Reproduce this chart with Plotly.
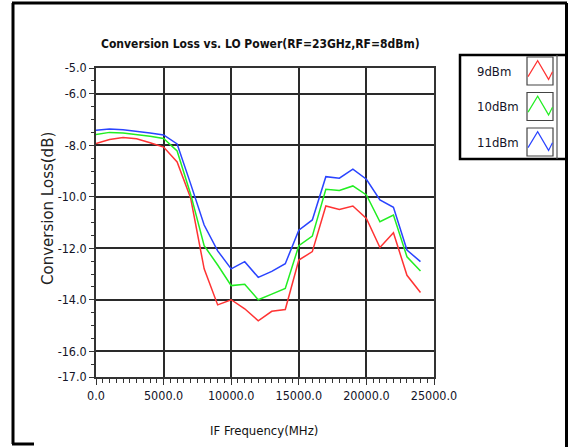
import plotly.graph_objects as go

# ---------------- data ----------------
freq_mhz = [0, 1000, 2000, 3000, 4000, 5000, 6000, 7000, 8000, 9000, 10000, 11000,
            12000, 13000, 14000, 15000, 16000, 17000, 18000, 19000, 20000, 21000,
            22000, 23000, 24000]
loss_9dbm = [-7.93, -7.78, -7.70, -7.75, -7.90, -8.07, -8.65, -10.05, -12.80, -14.20,
             -14.00, -14.35, -14.82, -14.45, -14.38, -12.46, -12.13, -10.36, -10.49,
             -10.36, -10.84, -11.97, -11.40, -13.05, -13.72]
loss_10dbm = [-7.58, -7.50, -7.52, -7.58, -7.65, -7.74, -8.22, -9.90, -11.90, -12.65,
              -13.45, -13.40, -14.00, -13.78, -13.56, -11.90, -11.53, -9.71, -9.76,
              -9.58, -9.93, -10.97, -10.71, -12.33, -12.88]
loss_11dbm = [-7.42, -7.37, -7.40, -7.45, -7.52, -7.60, -7.95, -9.50, -11.10, -12.10,
              -12.80, -12.52, -13.13, -12.90, -12.60, -11.30, -10.90, -9.22, -9.28,
              -8.93, -9.32, -10.12, -10.41, -12.07, -12.52]
series_names = ["9dBm", "10dBm", "11dBm"]
series_colors = ["#ff3333", "#22ee22", "#2a44ff"]
x_tickvals = [0, 5000, 10000, 15000, 20000, 25000]
y_tickvals = [-5, -6, -8, -10, -12, -14, -16, -17]
title_text = "Conversion Loss vs. LO Power(RF=23GHz,RF=8dBm)"
x_title = "IF Frequency(MHz)"
y_title = "Conversion Loss(dB)"

# ---------------- geometry ----------------
W, H = 569, 447
L, R, T, B = 96, 434, 68, 377


def px(x):
    return (x - L) / (R - L)


def py(y):
    return (B - y) / (B - T)


NARROW = "DejaVu Sans Condensed, Roboto, sans-serif"
TXT = "#141428"

fig = go.Figure()
for name, vals, col in zip(series_names, [loss_9dbm, loss_10dbm, loss_11dbm], series_colors):
    fig.add_trace(go.Scatter(x=freq_mhz, y=vals, mode="lines", name=name,
                             line=dict(color=col, width=1.5), showlegend=False))

fig.update_layout(
    width=W, height=H,
    margin=dict(l=L, r=W - R, t=T, b=H - B, pad=0),
    paper_bgcolor="white", plot_bgcolor="white",
    showlegend=False,
)

fig.update_xaxes(
    range=[0, 25000], tickmode="array", tickvals=x_tickvals,
    ticktext=[f"{v:.1f}" for v in x_tickvals],
    ticks="outside", ticklen=6, tickcolor="#333", tickwidth=1,
    showgrid=True, gridcolor="#2a2a2a", gridwidth=1.5,
    showline=True, linecolor="#333", linewidth=1.5, mirror=True,
    zeroline=False,
    tickfont=dict(family=NARROW, size=12.5, color=TXT),
    minor=dict(tickmode="linear", tick0=0, dtick=500, ticks="outside",
               ticklen=4, tickcolor="#333", showgrid=False),
)
fig.update_yaxes(
    range=[-17, -5], tickmode="array", tickvals=y_tickvals,
    ticktext=[f"{v:.1f}" for v in y_tickvals],
    ticks="outside", ticklen=5, tickcolor="#333", tickwidth=1,
    showgrid=True, gridcolor="#2a2a2a", gridwidth=2,
    showline=True, linecolor="#333", linewidth=1.5, mirror=True,
    zeroline=False,
    tickfont=dict(family=NARROW, size=12.5, color=TXT),
    minor=dict(tickmode="linear", tick0=-17, dtick=0.5, ticks="outside",
               ticklen=3, tickcolor="#333", showgrid=False),
)

ann = []
ann.append(dict(text="<b>" + title_text + "</b>", x=px(260), y=py(44), xref="paper", yref="paper",
                xanchor="center", yanchor="middle", showarrow=False,
                font=dict(family=NARROW, size=12, color="#111")))
ann.append(dict(text=x_title, x=px(264), y=py(430), xref="paper", yref="paper",
                xanchor="center", yanchor="middle", showarrow=False,
                font=dict(family=NARROW, size=13, color="#111")))
ann.append(dict(text=y_title, x=px(48), y=py(209), xref="paper", yref="paper",
                xanchor="center", yanchor="middle", showarrow=False, textangle=-90,
                font=dict(family="DejaVu Sans, sans-serif", size=15, color="#222")))

shapes = []
# outer frame
frame_segments = [((13, 3), (13, 444)), ((12, 3), (567, 3)), ((566.5, 3), (566.5, 447)),
                  ((12, 444), (34, 444))]
for (x0, y0), (x1, y1) in frame_segments:
    shapes.append(dict(type="line", xref="paper", yref="paper", x0=px(x0), y0=py(y0),
                       x1=px(x1), y1=py(y1), line=dict(color="black", width=3)))

# legend box
shapes.append(dict(type="rect", xref="paper", yref="paper", x0=px(460), y0=py(55),
                   x1=px(566.5), y1=py(159), line=dict(color="black", width=2.5)))
shapes.append(dict(type="line", xref="paper", yref="paper", x0=px(557), y0=py(55),
                   x1=px(557), y1=py(159), line=dict(color="#555", width=1.2)))
row_tops = [57, 92.5, 128]
for i, (name, col) in enumerate(zip(series_names, series_colors)):
    top = row_tops[i]
    bx0, bx1, by0, by1 = 527, 553, top, top + 28
    shapes.append(dict(type="rect", xref="paper", yref="paper", x0=px(bx0), y0=py(by0),
                       x1=px(bx1), y1=py(by1), line=dict(color="#444", width=1.2)))
    pts = [(0.04, 0.70), (0.41, 0.13), (0.83, 0.80), (0.98, 0.53)]
    path = ""
    for k, (fx, fy) in enumerate(pts):
        xx = px(bx0 + fx * (bx1 - bx0))
        yy = py(by0 + fy * (by1 - by0))
        path += ("M" if k == 0 else "L") + f"{xx:.4f},{yy:.4f}"
    shapes.append(dict(type="path", xref="paper", yref="paper", path=path,
                       line=dict(color=col, width=1.2)))
    ann.append(dict(text=name, x=px(475), y=py(top + 14), xref="paper", yref="paper",
                    xanchor="left", yanchor="middle", showarrow=False,
                    font=dict(family=NARROW, size=13, color=TXT)))

fig.update_layout(annotations=ann, shapes=shapes)

fig.write_html("out.html", config={"displayModeBar": False},
               post_script="document.body.style.margin='0';document.body.style.overflow='hidden';")
